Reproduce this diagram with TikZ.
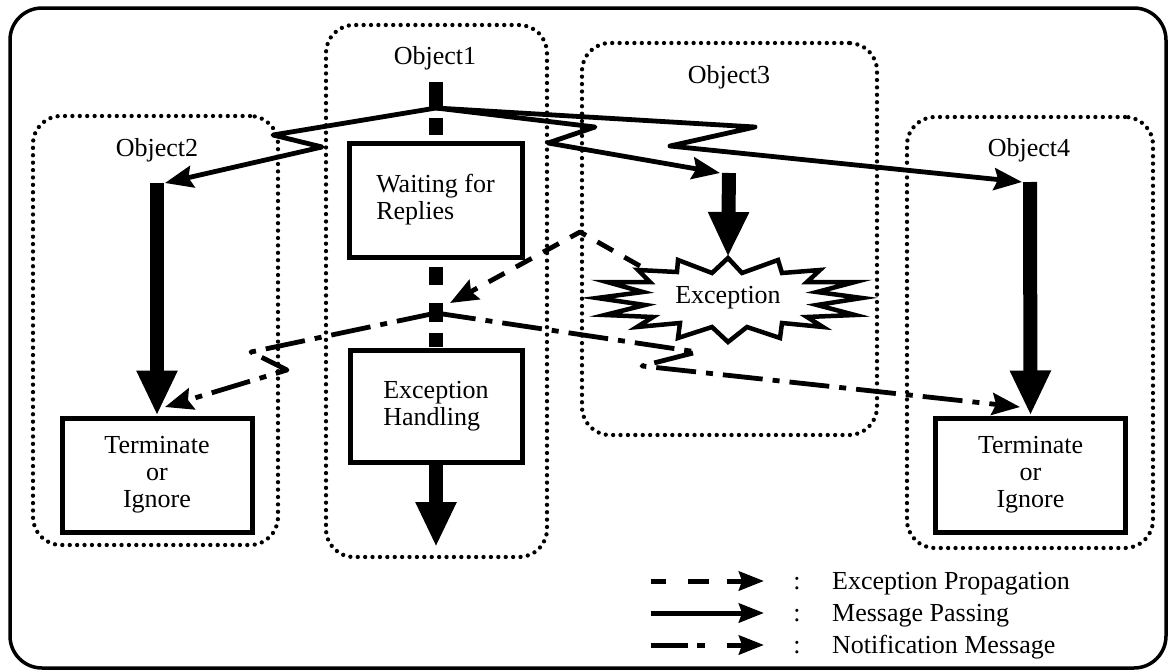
\documentclass[tikz,border=0pt]{standalone}
\usepackage{fontspec}
\setmainfont{Liberation Serif}
\usetikzlibrary{arrows.meta}

\begin{document}
\begin{tikzpicture}[x=1pt,y=-1pt,
  font=\fontsize{26}{27}\selectfont,
  frame/.style={draw, line width=3.5pt, rounded corners=32pt, inner sep=0pt},
  objbox/.style={draw, line width=4.3pt, dash pattern=on 0pt off 7.4pt, line cap=round,
                 rounded corners=28pt, inner sep=0pt},
  procbox/.style={draw, line width=5pt, inner sep=0pt},
  lifeline/.style={line width=14pt},
  bigarrow/.style={line width=14pt, -{Triangle[length=45pt,width=38pt]}},
  msg/.style={line width=4.8pt, line join=round, -{Stealth[length=28pt,width=22pt,inset=4pt]}},
  exprop/.style={msg, dash pattern=on 18pt off 13pt},
  notify/.style={msg, dash pattern=on 40pt off 10pt on 7pt off 10pt},
  keyarrow/.style={line width=5pt, -{Stealth[length=25pt,width=19pt,inset=3pt]}},
  burst/.style={draw, line width=4.5pt, line join=miter, fill=white},
]
\useasboundingbox (0,0) rectangle (1171,672);

% outer frame
\node[frame, minimum width=1156pt, minimum height=660pt] (frame) at (588,338) {};

% object regions
\node[objbox, minimum width=221pt, minimum height=532pt] (o1) at (436.5,291) {};
\node[objbox, minimum width=245pt, minimum height=429pt] (o2) at (155.5,330.5) {};
\node[objbox, minimum width=295pt, minimum height=392pt] (o3) at (729.5,239) {};
\node[objbox, minimum width=246pt, minimum height=431pt] (o4) at (1030,332.5) {};

\node (l1) at (435,58) {Object1};
\node (l2) at (157,150) {Object2};
\node (l3) at (729,77) {Object3};
\node (l4) at (1029,150) {Object4};

% activity boxes
\node[procbox, minimum width=173pt, minimum height=114pt, align=left] (wait) at (435.5,200) {Waiting for\\Replies};
\node[procbox, minimum width=172pt, minimum height=112pt, align=left] (handle) at (436,406) {Exception\\Handling};
\node[procbox, minimum width=190pt, minimum height=114pt, align=center] (term2) at (157,475) {Terminate\\or\\Ignore};
\node[procbox, minimum width=190pt, minimum height=114pt, align=center] (term4) at (1030.5,475) {Terminate\\or\\Ignore};

% exception burst
\draw[burst, shift={(728,298)}]
  (0,-40) -- (14,-25) -- (50,-38) -- (54,-25) -- (92,-28) -- (79,-16) -- (127,-16)
  -- (89,-6) -- (134,0) -- (89,7) -- (127,17) -- (79,19) -- (95,29) -- (54,25)
  -- (52,40) -- (19,29) -- (0,44) -- (-16,29) -- (-50,40) -- (-48,25) -- (-91,29)
  -- (-75,19) -- (-123,17) -- (-83,7) -- (-131,0) -- (-85,-6) -- (-121,-16)
  -- (-78,-16) -- (-90,-28) -- (-51,-26) -- (-50,-38) -- (-16,-25) -- cycle;
\node (exc) at (728,298) {Exception};

% key points
\coordinate (m0) at (436,108);
\coordinate (n0) at (436,313);
\coordinate (b2) at (157,183);
\coordinate (b3) at (729,173);
\coordinate (b4) at (1030,182);
\coordinate (bursttop) at (728,257);
\coordinate (exstart) at (640,266);
\coordinate (h1end) at (436,547);

% Object1 thread of control
\draw[lifeline] (436,82) -- (m0);
\draw[lifeline] (436,118) -- (436,135);
\draw[lifeline] (436,267) -- (436,285);
\draw[lifeline] (436,303) -- (436,322);
\draw[lifeline] (436,333) -- (436,347);
\draw[bigarrow] (handle.south) -- (h1end);

% threads of the other objects
\draw[bigarrow] (b2) -- (term2.north);
\draw[bigarrow] (b3) -- (bursttop);
\draw[bigarrow] (b4) -- (term4.north);

% message passing
\draw[msg] (m0) -- (273,135) -- (322,147) -- ([xshift=8pt]b2);
\draw[msg] (m0) -- (595,127) -- (548,143) -- ([xshift=-9pt]b3);
\draw[msg] (m0) -- (755,127) -- (670,146) -- ([xshift=-8pt]b4);

% exception propagation
\draw[exprop] (exstart) -- (580,232) -- (450,303);

% notification messages
\draw[notify] (n0) -- (251,352) -- (287,370) -- (165,407);
\draw[notify] (n0) -- (697,352) -- (642,366) -- (1020,407);

% legend
\coordinate (k1a) at (651,581); \coordinate (k1b) at (764,581);
\coordinate (k2a) at (651,613); \coordinate (k2b) at (764,613);
\coordinate (k3a) at (651,645); \coordinate (k3b) at (764,645);
\draw[keyarrow, dash pattern=on 15pt off 22pt on 21pt off 18pt on 40pt] (k1a) -- (k1b);
\draw[keyarrow] (k2a) -- (k2b);
\draw[keyarrow, dash pattern=on 37pt off 9pt on 8pt off 22pt on 40pt] (k3a) -- (k3b);
\node[anchor=base] (c1) at (797,589) {:};
\node[anchor=base] (c2) at (797,621) {:};
\node[anchor=base] (c3) at (797,653) {:};
\node[anchor=base west, inner sep=0pt] (t1) at (832,589) {Exception Propagation};
\node[anchor=base west, inner sep=0pt] (t2) at (832,621) {Message Passing};
\node[anchor=base west, inner sep=0pt] (t3) at (832,653) {Notification Message};
\end{tikzpicture}
\end{document}
